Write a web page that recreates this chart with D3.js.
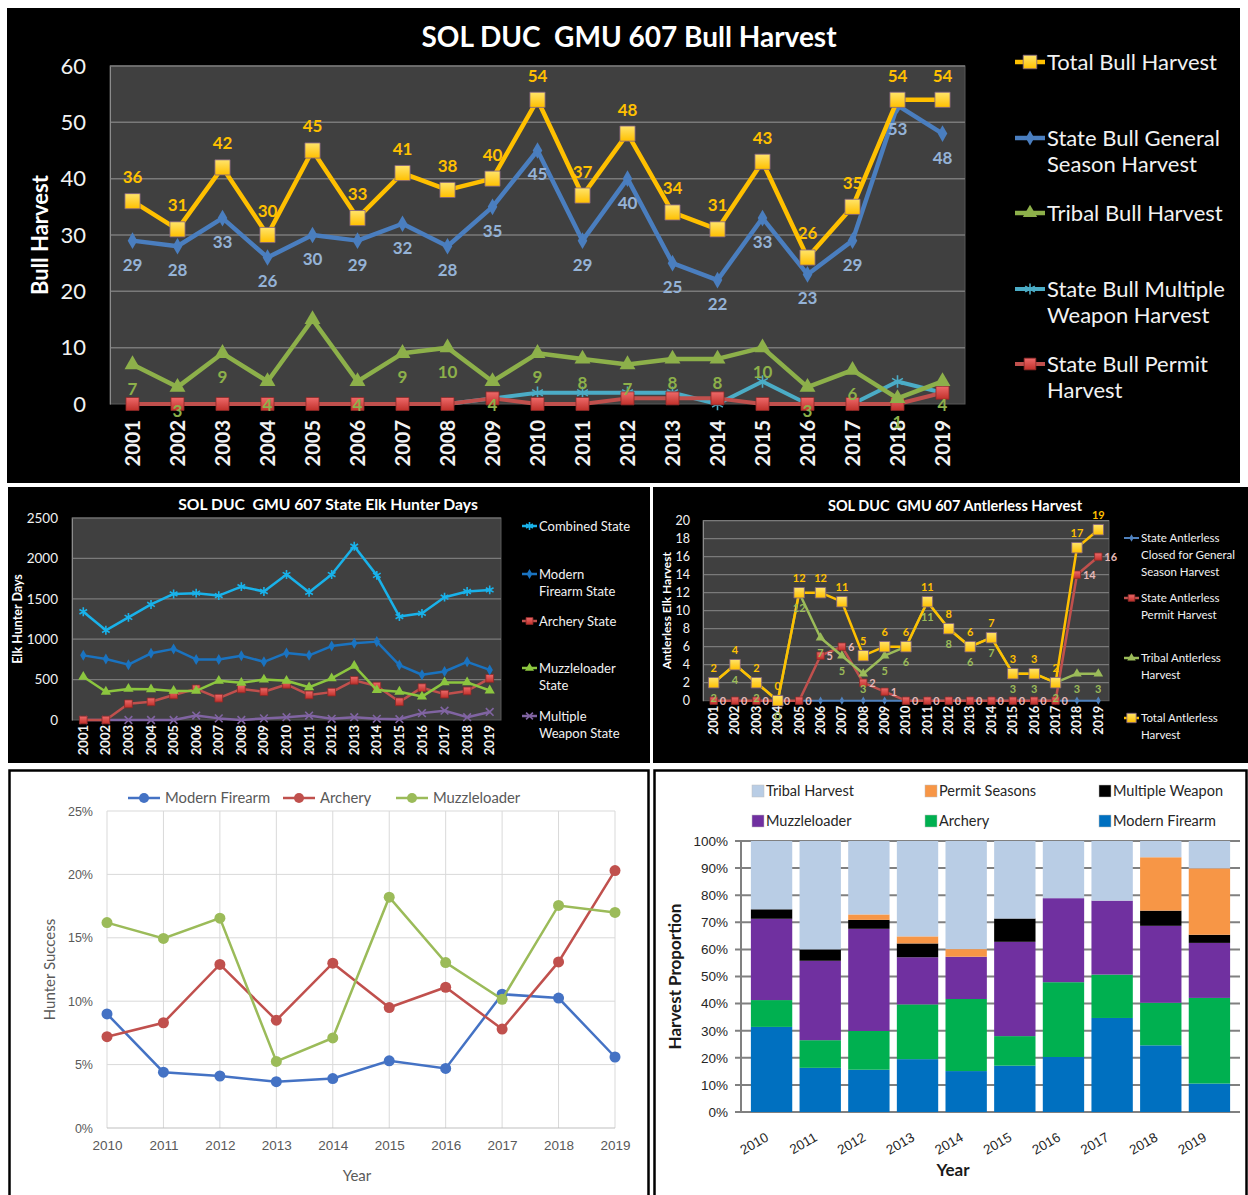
<!DOCTYPE html>
<html lang="en">
<head>
<meta charset="UTF-8">
<title>SOL DUC GMU 607 Elk Harvest</title>
<script src="https://d3js.org/d3.v7.min.js"></script>
<style>
  body { margin: 0; background: #fff; }
  svg { display: block; font-family: Lato, "Open Sans", sans-serif; }
</style>
</head>
<body>
<div id="chart"></div>
<script>
// ---------- data ----------
const years = [2001,2002,2003,2004,2005,2006,2007,2008,2009,2010,2011,2012,2013,2014,2015,2016,2017,2018,2019];

// bull harvest
const bullTotal    = [36,31,42,30,45,33,41,38,40,54,37,48,34,31,43,26,35,54,54];
const bullGeneral  = [29,28,33,26,30,29,32,28,35,45,29,40,25,22,33,23,29,53,48];
const bullTribal   = [7,3,9,4,15,4,9,10,4,9,8,7,8,8,10,3,6,1,4];
const bullMultiple = [null,null,null,null,null,null,null,0,1,2,2,2,2,0,4,0,0,4,2];
const bullPermit   = [0,0,0,0,0,0,0,0,1,0,0,1,1,1,0,0,0,0,2];

// state elk hunter days
const daysCombined = [1340,1110,1270,1430,1560,1570,1540,1650,1590,1800,1580,1800,2150,1790,1280,1320,1520,1590,1610];
const daysModern   = [800,755,685,825,880,750,750,795,720,830,800,915,950,970,680,560,600,720,620];
const daysArchery  = [0,0,200,225,310,385,270,385,350,440,310,345,490,420,225,400,320,360,515];
const daysMuzzle   = [535,350,385,380,360,360,485,460,500,485,405,515,670,370,350,290,465,465,365];
const daysMultiple = [0,0,0,0,0,55,20,0,20,35,55,15,35,15,10,85,115,35,100];

// antlerless harvest
const antGeneral = [null,null,null,null,0,0,0,0,0,0,0,0,0,0,0,0,0,0,0];
const antPermit  = [0,0,0,0,0,5,6,2,1,0,0,0,0,0,0,0,0,14,16];
const antTribal  = [2,4,2,0,12,7,5,3,5,6,11,8,6,7,3,3,2,3,3];
const antTotal   = [2,4,2,0,12,12,11,5,6,6,11,8,6,7,3,3,2,17,19];

// hunter success (%)
const succYears   = [2010,2011,2012,2013,2014,2015,2016,2017,2018,2019];
const succModern  = [9.0,4.4,4.1,3.65,3.9,5.3,4.7,10.55,10.25,5.6];
const succArchery = [7.2,8.3,12.9,8.5,13.0,9.5,11.1,7.8,13.1,20.3];
const succMuzzle  = [16.2,14.95,16.55,5.25,7.1,18.2,13.05,10.15,17.55,17.0];

// harvest proportion (% of year total)
const propModern   = [31.4,16.3,15.6,19.5,15.1,17.1,20.3,34.7,24.6,10.5];
const propArchery  = [9.9,10.2,14.3,20.2,26.6,10.9,27.6,16.0,15.7,31.6];
const propMuzzle   = [30.0,29.3,37.7,17.4,15.6,34.8,31.0,27.3,28.4,20.3];
const propMultiple = [3.5,4.2,3.3,5.1,0,8.6,0,0,5.6,3.0];
const propPermit   = [0,0,2.0,2.6,2.8,0,0,0,19.7,24.5];
const propTribal   = [25.2,40.0,27.1,35.2,39.9,28.6,21.1,22.0,6.0,10.1];

// ---------- svg ----------
const svg = d3.select("#chart").append("svg")
  .attr("width", 1248).attr("height", 1195);

const defs = svg.append("defs");
function grad(id, c1, c2) {
  const lg = defs.append("linearGradient").attr("id", id)
    .attr("x1", 0).attr("y1", 0).attr("x2", 0).attr("y2", 1);
  lg.append("stop").attr("offset", "0%").attr("stop-color", c1);
  lg.append("stop").attr("offset", "100%").attr("stop-color", c2);
}
grad("gYellow", "#ffe46b", "#ffc000");
grad("gRed", "#ee6a6a", "#c0302a");

const sym = {
  square: d3.symbolSquare,
  diamond: d3.symbolDiamond,
  triangle: d3.symbolTriangle,
  star: d3.symbolAsterisk || d3.symbolCross,
  times: d3.symbolTimes || d3.symbolCross,
  circle: d3.symbolCircle
};
const strokeSym = s => s === "star" || s === "times";

function marker(g, s, x, y) {
  const p = g.append("path")
    .attr("transform", `translate(${x},${y})`)
    .attr("d", d3.symbol(sym[s.symbol], s.size)());
  if (strokeSym(s.symbol)) {
    p.attr("fill", "none").attr("stroke", s.color).attr("stroke-width", 1.6);
  } else {
    p.attr("fill", s.fill || s.color)
      .attr("stroke", s.mstroke || "none").attr("stroke-width", 0.8);
  }
}

// dark excel-style line chart
function darkChart(o) {
  const g = svg.append("g");
  g.append("rect").attr("x", o.box[0]).attr("y", o.box[1])
    .attr("width", o.box[2]).attr("height", o.box[3]).attr("fill", "#000");

  const x = d3.scaleBand().domain(years).range([o.left, o.right]);
  const y = d3.scaleLinear().domain([0, o.yMax]).range([o.bottom, o.top]);
  const cx = d => x(d) + x.bandwidth() / 2;

  g.append("rect").attr("x", o.left).attr("y", o.top)
    .attr("width", o.right - o.left).attr("height", o.bottom - o.top)
    .attr("fill", "#404040").attr("stroke", "#595959");

  const ticks = d3.range(0, o.yMax + o.yStep / 2, o.yStep);
  g.selectAll(".grid").data(ticks.slice(1)).join("line")
    .attr("x1", o.left).attr("x2", o.right)
    .attr("y1", d => y(d)).attr("y2", d => y(d))
    .attr("stroke", "#7a7a7a").attr("stroke-width", o.gridW || 1.5);

  const ya = g.append("g").attr("transform", `translate(${o.left},0)`)
    .call(d3.axisLeft(y).tickValues(ticks).tickSize(0).tickPadding(o.yPad)
      .tickFormat(d3.format("d")));
  ya.select(".domain").attr("stroke", "#8c8c8c");
  ya.selectAll("text").attr("fill", "#f2f2f2").style("font-size", o.yFont + "px")
    .style("font-family", "Lato, sans-serif");

  const xa = g.append("g").attr("transform", `translate(0,${o.bottom})`)
    .call(d3.axisBottom(x).tickSize(0));
  xa.select(".domain").remove();
  xa.selectAll("text")
    .attr("x", -o.xPad).attr("y", 0).attr("dy", "0.35em")
    .attr("transform", "rotate(-90)").style("text-anchor", "end")
    .attr("fill", "#f2f2f2").style("font-size", o.xFont + "px")
    .style("font-weight", "bold").style("font-family", "Lato, sans-serif");

  // title + axis title
  g.append("text").attr("x", o.titleX).attr("y", o.titleY)
    .attr("text-anchor", "middle").attr("fill", "#fff")
    .style("font-size", o.titleFont + "px").style("font-weight", "bold")
    .style("white-space", "pre").text(o.title);
  g.append("text")
    .attr("transform", `translate(${o.yTitleX},${(o.top + o.bottom) / 2}) rotate(-90)`)
    .attr("text-anchor", "middle").attr("dy", "0.35em").attr("fill", "#fff")
    .style("font-size", o.yTitleFont + "px").style("font-weight", "bold")
    .text(o.yTitle);

  const line = d3.line().defined(d => d[1] != null)
    .x(d => cx(d[0])).y(d => y(d[1]));

  o.series.forEach(s => {
    const pts = years.map((yr, i) => [yr, s.values[i]]);
    g.append("path").attr("d", line(pts)).attr("fill", "none")
      .attr("stroke", s.color).attr("stroke-width", s.width)
      .attr("stroke-linejoin", "round");
    pts.filter(d => d[1] != null).forEach(d => marker(g, s, cx(d[0]), y(d[1])));
  });

  // data labels
  o.series.filter(s => s.label).forEach(s => {
    const L = s.label;
    years.forEach((yr, i) => {
      const v = s.values[i];
      if (v == null || (L.skip || []).includes(yr)) return;
      g.append("text")
        .attr("x", cx(yr) + (L.dx || 0)).attr("y", y(v) + (L.dy || 0))
        .attr("dy", "0.35em")
        .attr("text-anchor", L.anchor || "middle")
        .attr("fill", L.color).style("font-size", L.size + "px")
        .style("font-weight", "bold").text(v);
    });
  });

  // legend
  const lg = o.legend;
  o.series.forEach((s, i) => {
    const it = lg.items[i];
    const y0 = it.y;
    g.append("line").attr("x1", lg.x).attr("x2", lg.x + lg.w)
      .attr("y1", y0).attr("y2", y0)
      .attr("stroke", s.color).attr("stroke-width", s.width);
    marker(g, Object.assign({}, s, { size: s.size * 0.8 }), lg.x + lg.w / 2, y0);
    it.lines.forEach((t, k) => {
      g.append("text").attr("x", lg.x + lg.w + 2).attr("y", y0 + k * lg.lh)
        .attr("dy", "0.35em").attr("fill", "#f2f2f2")
        .style("font-size", lg.font + "px").text(t);
    });
  });
}

// ---------- top: bull harvest ----------
darkChart({
  box: [7, 8, 1233, 475],
  left: 110, right: 965, top: 66, bottom: 404,
  yMax: 60, yStep: 10, yFont: 22, yPad: 24, xFont: 20, xPad: 16,
  title: "SOL DUC  GMU 607 Bull Harvest", titleX: 629, titleY: 47, titleFont: 28,
  yTitle: "Bull Harvest", yTitleX: 40, yTitleFont: 22,
  series: [
    { values: bullMultiple, color: "#4bacc6", width: 4, symbol: "star", size: 110 },
    { values: bullPermit, color: "#c0504d", width: 4, symbol: "square", size: 170,
      fill: "url(#gRed)", mstroke: "#8c2a28" },
    { values: bullTribal, color: "#8db04a", width: 4.5, symbol: "triangle", size: 110,
      label: { color: "#8db04a", size: 17, dy: 24, skip: [2005] } },
    { values: bullGeneral, color: "#4a7ebf", width: 4.5, symbol: "diamond", size: 80,
      label: { color: "#95b3d7", size: 17, dy: 24 } },
    { values: bullTotal, color: "#ffc000", width: 4.5, symbol: "square", size: 230,
      fill: "url(#gYellow)", mstroke: "#7f6084",
      label: { color: "#ffc000", size: 17, dy: -24 } }
  ],
  legend: {
    x: 1015, w: 30, lh: 26, font: 22,
    items: [
      { y: 289, lines: ["State Bull Multiple", "Weapon Harvest"] },
      { y: 364, lines: ["State Bull Permit", "Harvest"] },
      { y: 213, lines: ["Tribal Bull Harvest"] },
      { y: 138, lines: ["State Bull General", "Season Harvest"] },
      { y: 62, lines: ["Total Bull Harvest"] }
    ]
  }
});

// ---------- middle left: hunter days ----------
darkChart({
  box: [8, 487, 642, 276],
  left: 72, right: 501, top: 518, bottom: 720,
  yMax: 2500, yStep: 500, yFont: 13.5, yPad: 14, xFont: 13, xPad: 5,
  title: "SOL DUC  GMU 607 State Elk Hunter Days", titleX: 328, titleY: 510, titleFont: 15.7,
  yTitle: "Elk Hunter Days", yTitleX: 18, yTitleFont: 12.5, gridW: 1.2,
  series: [
    { values: daysMultiple, color: "#8064a2", width: 2.5, symbol: "times", size: 40 },
    { values: daysArchery, color: "#c0504d", width: 2.5, symbol: "square", size: 60,
      fill: "url(#gRed)", mstroke: "#8c2a28" },
    { values: daysMuzzle, color: "#8cc63f", width: 2.5, symbol: "triangle", size: 45 },
    { values: daysModern, color: "#1a73c0", width: 2.5, symbol: "diamond", size: 35 },
    { values: daysCombined, color: "#19b2ea", width: 2.5, symbol: "star", size: 55 }
  ],
  legend: {
    x: 522, w: 15, lh: 17.5, font: 13,
    items: [
      { y: 716, lines: ["Multiple", "Weapon State"] },
      { y: 621, lines: ["Archery State"] },
      { y: 668, lines: ["Muzzleloader", "State"] },
      { y: 574, lines: ["Modern", "Firearm State"] },
      { y: 526, lines: ["Combined State"] }
    ]
  }
});

// ---------- middle right: antlerless harvest ----------
darkChart({
  box: [653, 487, 595, 276],
  left: 703, right: 1109, top: 520.7, bottom: 700.7,
  yMax: 20, yStep: 2, yFont: 12.5, yPad: 13, xFont: 12.5, xPad: 5,
  title: "SOL DUC  GMU 607 Antlerless Harvest", titleX: 955, titleY: 511, titleFont: 14.5,
  yTitle: "Antlerless Elk Harvest", yTitleX: 667, yTitleFont: 12, gridW: 1.2,
  series: [
    { values: antGeneral, color: "#4f81bd", width: 2, symbol: "diamond", size: 20 },
    { values: antPermit, color: "#c0504d", width: 2.5, symbol: "square", size: 55,
      fill: "url(#gRed)", mstroke: "#8c2a28",
      label: { color: "#e6b9b8", size: 11, dx: 6, anchor: "start" } },
    { values: antTribal, color: "#9bbb59", width: 2.5, symbol: "triangle", size: 40,
      label: { color: "#9bbb59", size: 11, dy: 15 } },
    { values: antTotal, color: "#ffc000", width: 2.5, symbol: "square", size: 110,
      fill: "url(#gYellow)", mstroke: "#7f6084",
      label: { color: "#ffc000", size: 11, dy: -15 } }
  ],
  legend: {
    x: 1124, w: 15, lh: 17, font: 11.5,
    items: [
      { y: 538, lines: ["State Antlerless", "Closed for General", "Season Harvest"] },
      { y: 598, lines: ["State Antlerless", "Permit Harvest"] },
      { y: 658, lines: ["Tribal Antlerless", "Harvest"] },
      { y: 718, lines: ["Total Antlerless", "Harvest"] }
    ]
  }
});

// ---------- bottom left: hunter success ----------
(function () {
  const g = svg.append("g");
  g.append("rect").attr("x", 9.5).attr("y", 770.5).attr("width", 639).attr("height", 426)
    .attr("fill", "#fff").attr("stroke", "#000").attr("stroke-width", 2.5);

  const left = 107, right = 615, top = 811, bottom = 1128;
  const x = d3.scalePoint().domain(succYears).range([left, right]);
  const y = d3.scaleLinear().domain([0, 25]).range([bottom, top]);
  const grey = "#595959";

  g.selectAll(".hg").data([5, 10, 15, 20, 25]).join("line")
    .attr("x1", left).attr("x2", right).attr("y1", d => y(d)).attr("y2", d => y(d))
    .attr("stroke", "#d9d9d9");
  g.selectAll(".vg").data(succYears).join("line")
    .attr("x1", d => x(d)).attr("x2", d => x(d)).attr("y1", top).attr("y2", bottom)
    .attr("stroke", "#d9d9d9");
  g.append("line").attr("x1", left).attr("x2", right).attr("y1", bottom).attr("y2", bottom)
    .attr("stroke", "#bfbfbf");

  const ya = g.append("g").attr("transform", `translate(${left},0)`)
    .call(d3.axisLeft(y).tickValues([0, 5, 10, 15, 20, 25]).tickSize(0).tickPadding(14)
      .tickFormat(d => d + "%"));
  ya.select(".domain").remove();
  ya.selectAll("text").attr("fill", grey).style("font-size", "12.5px");

  const xa = g.append("g").attr("transform", `translate(0,${bottom})`)
    .call(d3.axisBottom(x).tickSize(0).tickPadding(12));
  xa.select(".domain").remove();
  xa.selectAll("text").attr("fill", grey).style("font-size", "13.5px");

  g.append("text").attr("x", 357).attr("y", 1181).attr("text-anchor", "middle")
    .attr("fill", grey).style("font-size", "15px").text("Year");
  g.append("text").attr("transform", `translate(50,${(top + bottom) / 2}) rotate(-90)`)
    .attr("text-anchor", "middle").attr("dy", "0.35em")
    .attr("fill", grey).style("font-size", "15px").text("Hunter Success");

  const series = [
    { name: "Modern Firearm", values: succModern, color: "#4472c4", lx: 128 },
    { name: "Archery", values: succArchery, color: "#c0504d", lx: 283 },
    { name: "Muzzleloader", values: succMuzzle, color: "#9bbb59", lx: 396 }
  ];
  const line = d3.line().x(d => x(d[0])).y(d => y(d[1]));
  series.forEach(s => {
    const pts = succYears.map((yr, i) => [yr, s.values[i]]);
    g.append("path").attr("d", line(pts)).attr("fill", "none")
      .attr("stroke", s.color).attr("stroke-width", 2.5);
    g.selectAll(null).data(pts).join("circle")
      .attr("cx", d => x(d[0])).attr("cy", d => y(d[1])).attr("r", 5.5)
      .attr("fill", s.color);
    // legend
    g.append("line").attr("x1", s.lx).attr("x2", s.lx + 32).attr("y1", 798).attr("y2", 798)
      .attr("stroke", s.color).attr("stroke-width", 2.5);
    g.append("circle").attr("cx", s.lx + 16).attr("cy", 798).attr("r", 5).attr("fill", s.color);
    g.append("text").attr("x", s.lx + 37).attr("y", 798).attr("dy", "0.35em")
      .attr("fill", grey).style("font-size", "14.8px").text(s.name);
  });
})();

// ---------- bottom right: harvest proportion ----------
(function () {
  const g = svg.append("g");
  g.append("rect").attr("x", 654.5).attr("y", 770.5).attr("width", 592).attr("height", 426)
    .attr("fill", "#fff").attr("stroke", "#000").attr("stroke-width", 2.5);

  const left = 741, right = 1240, top = 841, bottom = 1112;
  const keys = ["modern", "archery", "muzzle", "multiple", "permit", "tribal"];
  const cols = {
    modern: "#0070c0", archery: "#00b050", muzzle: "#7030a0",
    multiple: "#000000", permit: "#f79646", tribal: "#b9cde5"
  };
  const rows = succYears.map((yr, i) => ({
    year: yr, modern: propModern[i], archery: propArchery[i], muzzle: propMuzzle[i],
    multiple: propMultiple[i], permit: propPermit[i], tribal: propTribal[i]
  }));
  const stack = d3.stack().keys(keys)(rows);

  const x = d3.scaleBand().domain(succYears).range([left + 6, right - 6]).paddingInner(0.15).paddingOuter(0.08);
  const y = d3.scaleLinear().domain([0, 100]).range([bottom, top]);
  const ticks = d3.range(0, 101, 10);

  g.selectAll(".hg").data(ticks).join("line")
    .attr("x1", left - 6).attr("x2", right).attr("y1", d => y(d)).attr("y2", d => y(d))
    .attr("stroke", "#808080").attr("stroke-width", 2);
  g.append("line").attr("x1", left).attr("x2", left).attr("y1", top).attr("y2", bottom)
    .attr("stroke", "#808080").attr("stroke-width", 2);

  stack.forEach(layer => {
    g.selectAll(null).data(layer).join("rect")
      .attr("x", d => x(d.data.year)).attr("width", x.bandwidth())
      .attr("y", d => y(d[1])).attr("height", d => y(d[0]) - y(d[1]))
      .attr("fill", cols[layer.key]);
  });

  const ya = g.append("g").attr("transform", `translate(${left - 8},0)`)
    .call(d3.axisLeft(y).tickValues(ticks).tickSize(0).tickPadding(5).tickFormat(d => d + "%"));
  ya.select(".domain").remove();
  ya.selectAll("text").attr("fill", "#262626").style("font-size", "13.5px");

  const xa = g.append("g").attr("transform", `translate(0,${bottom})`)
    .call(d3.axisBottom(x).tickSize(0));
  xa.select(".domain").remove();
  xa.selectAll("text")
    .attr("x", 0).attr("y", 0).attr("dy", 0)
    .attr("transform", "translate(-2,28) rotate(-30)")
    .style("text-anchor", "end").attr("fill", "#262626").style("font-size", "13.5px");

  g.append("text").attr("x", 953).attr("y", 1176).attr("text-anchor", "middle")
    .attr("fill", "#1a1a1a").style("font-size", "17px").style("font-weight", "bold").text("Year");
  g.append("text").attr("transform", `translate(675,${(top + bottom) / 2}) rotate(-90)`)
    .attr("text-anchor", "middle").attr("dy", "0.35em")
    .attr("fill", "#1a1a1a").style("font-size", "17px").style("font-weight", "bold")
    .text("Harvest Proportion");

  const legendItems = [
    { key: "tribal", name: "Tribal Harvest", x: 752, y: 791 },
    { key: "permit", name: "Permit Seasons", x: 925, y: 791 },
    { key: "multiple", name: "Multiple Weapon", x: 1099, y: 791 },
    { key: "muzzle", name: "Muzzleloader", x: 752, y: 821 },
    { key: "archery", name: "Archery", x: 925, y: 821 },
    { key: "modern", name: "Modern Firearm", x: 1099, y: 821 }
  ];
  legendItems.forEach(it => {
    g.append("rect").attr("x", it.x).attr("y", it.y - 6).attr("width", 12).attr("height", 12)
      .attr("fill", cols[it.key]).attr("stroke", "#bfbfbf").attr("stroke-width", 0.5);
    g.append("text").attr("x", it.x + 14).attr("y", it.y).attr("dy", "0.35em")
      .attr("fill", "#262626").style("font-size", "14.5px").text(it.name);
  });
})();
</script>
</body>
</html>
